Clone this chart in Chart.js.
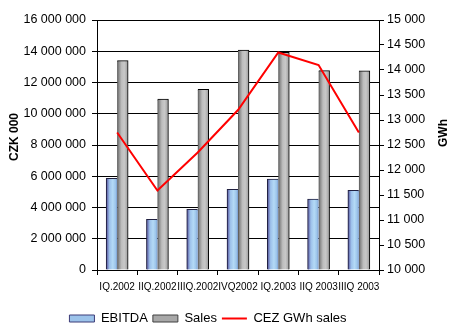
<!DOCTYPE html>
<html>
<head>
<meta charset="utf-8">
<script src="https://cdn.jsdelivr.net/npm/chart.js@4/dist/chart.umd.min.js"></script>
<style>
html,body{margin:0;padding:0;background:#fff;}
#wrap{width:450px;height:332px;position:relative;}
</style>
</head>
<body>
<div id="wrap"><canvas id="c" width="450" height="332"></canvas></div>
<script>
const categories = ['IQ.2002','IIQ.2002','IIIQ.2002','IVQ2002','IQ.2003','IIQ 2003','IIIQ 2003'];
const ebitda = [5870000, 3240000, 3880000, 5160000, 5820000, 4540000, 5100000];
const sales = [13400000, 10940000, 11560000, 14080000, 13930000, 12760000, 12740000];
const gwhSales = [12750, 11590, 12350, 13200, 14350, 14100, 12750];
const leftTicks = [0, 2000000, 4000000, 6000000, 8000000, 10000000, 12000000, 14000000, 16000000];
const rightTicks = [10000, 10500, 11000, 11500, 12000, 12500, 13000, 13500, 14000, 14500, 15000];
const leftTitle = 'CZK 000';
const rightTitle = 'GWh';
const seriesNames = ['EBITDA', 'Sales', 'CEZ GWh sales'];

const FONT = '"Liberation Sans", Arial, sans-serif';
const BAR = 11;

function fmt(v){
  return String(Math.round(v)).replace(/\B(?=(\d{3})+(?!\d))/g, ' ');
}

function grad(context, stops, side, fallback){
  const chart = context.chart;
  const xs = chart.scales && chart.scales.x;
  if (!xs || context.type !== 'data' || !chart.chartArea) return fallback;
  const cx = xs.getPixelForValue(context.dataIndex) + side * BAR / 2;
  const g = chart.ctx.createLinearGradient(cx - BAR/2, 0, cx + BAR/2, 0);
  stops.forEach(s => g.addColorStop(s[0], s[1]));
  return g;
}

const ebitdaStops = [[0,'#3c3c78'],[0.12,'#6e78b8'],[0.3,'#9cc0ea'],[0.6,'#b4daf6'],[0.85,'#9cc4ea'],[1,'#7a9cd0']];
const salesStops = [[0,'#505050'],[0.15,'#8a8a8a'],[0.4,'#bdbdbd'],[0.65,'#c8c8c8'],[0.9,'#a8a8a8'],[1,'#8c8c8c']];

const titlesPlugin = {
  id: 'titles',
  afterLayout(chart){
    const l = chart.legend;
    if (l) {
      l.left -= 17; l.right -= 17;
      l.top += 7; l.bottom += 7;
    }
  },
  afterDraw(chart){
    const c = chart.ctx;
    [[leftTitle, 15, 137], [rightTitle, 444, 133]].forEach(([t, x, y]) => {
      c.save();
      c.fillStyle = '#000';
      c.font = 'bold 12px ' + FONT;
      c.textAlign = 'center';
      c.textBaseline = 'middle';
      c.translate(x, y);
      c.rotate(-Math.PI/2);
      c.fillText(t, 0, 0);
      c.restore();
    });
  }
};

new Chart(document.getElementById('c'), {
  type: 'bar',
  data: {
    labels: categories,
    datasets: [
      { type: 'line', label: seriesNames[2], data: gwhSales, yAxisID: 'y1', borderColor: '#ff0000', backgroundColor: '#ff0000', borderWidth: 2, pointRadius: 0, tension: 0, fill: false, order: 0 },
      { label: seriesNames[0], data: ebitda, yAxisID: 'y', backgroundColor: ctx => grad(ctx, ebitdaStops, -1, '#9cc3ea'), borderColor: '#202040', borderWidth: {left: 1, top: 1, right: 0, bottom: 0}, borderSkipped: false, barThickness: BAR, order: 1 },
      { label: seriesNames[1], data: sales, yAxisID: 'y', backgroundColor: ctx => grad(ctx, salesStops, 1, '#b0b0b0'), borderColor: '#000', borderWidth: {left: 0, top: 1, right: 1, bottom: 0}, borderSkipped: false, barThickness: BAR, order: 1 }
    ]
  },
  options: {
    responsive: false,
    animation: false,
    layout: { padding: { top: 20, left: 0, right: 0, bottom: 4 } },
    plugins: {
      tooltip: { enabled: false },
      legend: {
        position: 'bottom',
        labels: {
          font: { family: FONT, size: 13 }, color: '#000', usePointStyle: true, pointStyleWidth: 25, boxHeight: 7, padding: 5,
          generateLabels: () => [
            { text: seriesNames[0], fillStyle: '#9cc3ea', strokeStyle: '#3c3c78', lineWidth: 1, pointStyle: 'rect', datasetIndex: 1, hidden: false, fontColor: '#000' },
            { text: seriesNames[1], fillStyle: '#a8a8a8', strokeStyle: '#404040', lineWidth: 1, pointStyle: 'rect', datasetIndex: 2, hidden: false, fontColor: '#000' },
            { text: seriesNames[2], fillStyle: '#ff0000', strokeStyle: '#ff0000', lineWidth: 2, pointStyle: 'line', datasetIndex: 0, hidden: false, fontColor: '#000' }
          ]
        }
      }
    },
    scales: {
      x: { offset: true, afterFit: s => { s.height = 30; }, grid: { display: true, drawOnChartArea: false, drawTicks: true, tickLength: 5, color: '#000', offset: true }, border: { display: true, color: '#000', width: 1 }, ticks: { font: { family: FONT, size: 10 }, color: '#000', autoSkip: false, maxRotation: 0, minRotation: 0, padding: 6 } },
      y: { position: 'left', min: 0, max: 16000000, afterFit: s => { s.width = 97; }, afterBuildTicks: s => { s.ticks = leftTicks.map(v => ({ value: v })); }, grid: { color: '#000', lineWidth: 1, drawTicks: true, tickLength: 5 }, border: { display: true, color: '#000', width: 1 }, ticks: { font: { family: FONT, size: 12.5 }, color: '#000', padding: 6, callback: v => fmt(v) } },
      y1: { position: 'right', min: 10000, max: 15000, afterFit: s => { s.width = 71; }, afterBuildTicks: s => { s.ticks = rightTicks.map(v => ({ value: v })); }, grid: { drawOnChartArea: false, color: '#000', drawTicks: true, tickLength: 5 }, border: { display: true, color: '#000', width: 1 }, ticks: { font: { family: FONT, size: 12.5 }, color: '#000', padding: 3, callback: v => fmt(v) } }
    }
  },
  plugins: [titlesPlugin]
});
</script>
</body>
</html>
